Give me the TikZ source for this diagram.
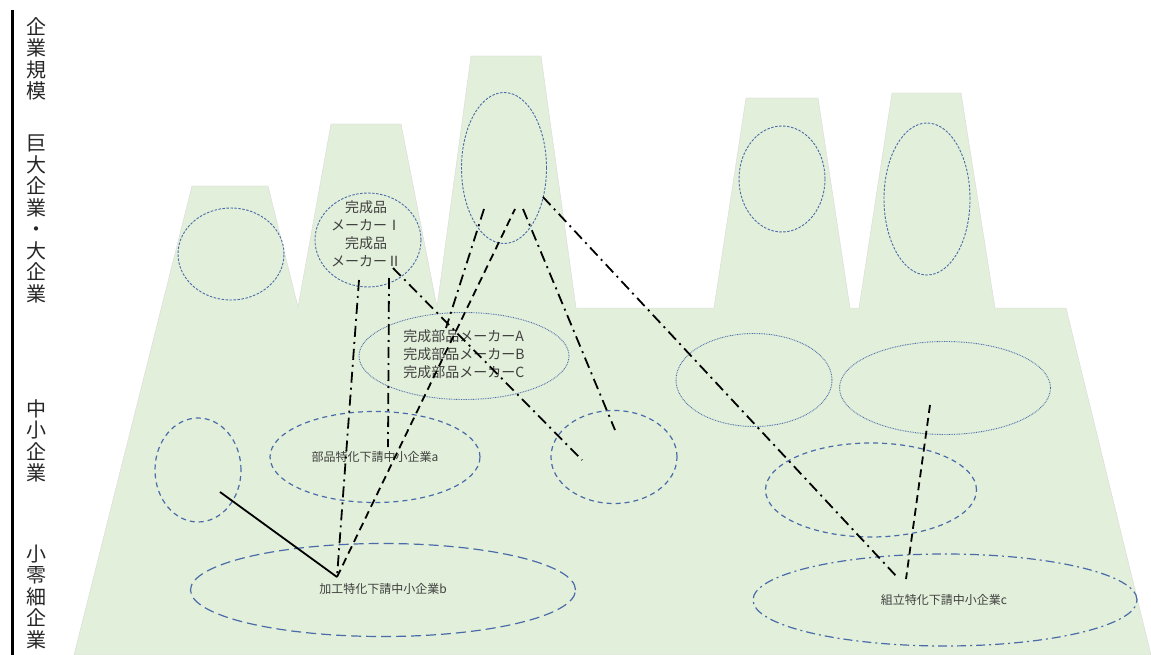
\documentclass[tikz,border=0pt]{standalone}
\usepackage{fontspec}
\setmainfont{Noto Sans CJK JP}
\usepackage{tikz}
\usetikzlibrary{shapes.geometric, calc, arrows.meta}
\definecolor{yama}{HTML}{E2EFDA}
\definecolor{waku}{HTML}{4A6BAA}
\definecolor{moji}{HTML}{404040}
\tikzset{
  kigyou/.style={ellipse, draw=waku, inner sep=0pt},
  kHoso/.style={kigyou, line width=0.9pt, dash pattern=on 2.5pt off 1.5pt},
  kTen/.style={kigyou, line width=0.9pt, dash pattern=on 0.8pt off 0.9pt},
  kHa/.style={kigyou, line width=1.2pt, dash pattern=on 5pt off 4pt},
  kNaga/.style={kigyou, line width=1.2pt, dash pattern=on 10pt off 5pt},
  kItten/.style={kigyou, line width=1.2pt, dash pattern=on 9pt off 4pt on 2pt off 4pt},
  rensen/.style={line width=1.8pt, black},
  itten/.style={rensen, dash pattern=on 11pt off 5pt on 2pt off 5pt},
  hasen/.style={rensen, dash pattern=on 8pt off 5pt},
  hidari/.style={align=center, inner sep=0pt, text=black!85, font=\fontsize{20pt}{21.5pt}\selectfont},
  mojiL/.style={align=center, inner sep=0pt, text=moji, font=\fontsize{14pt}{18pt}\selectfont},
  mojiS/.style={inner sep=0pt, text=moji, font=\fontsize{12pt}{14pt}\selectfont},
}
\begin{document}
\begin{tikzpicture}[x=1pt, y=-1pt]
  \useasboundingbox (0,0) rectangle (1151,655);
  \fill[yama, draw=black!15, line width=0.4pt] (74,655) --(192,186) --(268,186) --(298,307) --(331,124) --(401,124)
    --(437,307) --(471,56) --(541,56) --(576,308) --(714,308) --(746,98) --(818,98) --(850,308) --(859,308)
    --(892,93) --(961,93) --(995,308) --(1066,308) --(1151,655) --cycle; %山の外形
  \draw[line width=3pt] (12,10) --(12,655); %縦軸
  \node[hidari] (kibo) at (37,59) {企\\業\\規\\模};
  \node[hidari] (dai) at (37,219) {巨\\大\\企\\業\\・\\大\\企\\業};
  \node[hidari] (chu) at (37,441) {中\\小\\企\\業};
  \node[hidari] (sho) at (37,597) {小\\零\\細\\企\\業};
  % 巨大企業
  \node[kHoso, minimum width=106pt, minimum height=92pt] (y1) at (231,254) {};
  \node[kHoso, minimum width=106pt, minimum height=94pt] (y2) at (368,240) {};
  \node[kHoso, minimum width=85pt, minimum height=151pt] (y3) at (504,168) {};
  \node[kHoso, minimum width=86pt, minimum height=106pt] (y4) at (782,179) {};
  \node[kHoso, minimum width=86pt, minimum height=152pt] (y5) at (927,199) {};
  % 中小企業
  \node[kTen, minimum width=210pt, minimum height=87pt] (buhin) at (464,356) {};
  \node[kTen, minimum width=156pt, minimum height=93pt] (m2) at (754,380) {};
  \node[kTen, minimum width=211pt, minimum height=93pt] (m3) at (945,388) {};
  \node[kHa, minimum width=211pt, minimum height=94pt] (m4) at (871,490) {};
  \node[kHa, minimum width=210pt, minimum height=91pt] (sa) at (375,457) {};
  \node[kHa, minimum width=86pt, minimum height=104pt] (m5) at (198,470) {};
  \node[kHa, minimum width=126pt, minimum height=93pt] (m6) at (614,457) {};
  % 小零細企業
  \node[kNaga, minimum width=385pt, minimum height=93pt] (sb) at (383,590) {};
  \node[kItten, minimum width=384pt, minimum height=92pt] (sc) at (945,600) {};
  % 文字
  \node[mojiL] (t2) at (366,234) {完成品\\メーカーⅠ\\完成品\\メーカーⅡ};
  \node[mojiL, align=left] (tb) at (464,354) {完成部品メーカーA\\完成部品メーカーB\\完成部品メーカーC};
  \node[mojiS] (ta) at (375,457) {部品特化下請中小企業a};
  \node[mojiS] (tbb) at (383,589) {加工特化下請中小企業b};
  \node[mojiS] (tc) at (944,600) {組立特化下請中小企業c};
  % 取引の線
  \coordinate (m5in) at (220,492);
  \coordinate (sbtop) at (337,577);
  \coordinate (y2a) at (359,280);
  \coordinate (y2b) at (389,278);
  \coordinate (y2c) at (393,268);
  \coordinate (sain) at (388,447);
  \coordinate (y3a) at (484,209);
  \coordinate (y3b) at (515,209);
  \coordinate (y3c) at (523,209);
  \coordinate (y3d) at (543,197);
  \coordinate (buhinin) at (446,328);
  \coordinate (m6a) at (582,460);
  \coordinate (m6b) at (615,430);
  \coordinate (sctop) at (898,578);
  \coordinate (sctop2) at (906,579);
  \coordinate (m3in) at (930,405);
  \draw[rensen] (m5in) --(sbtop);
  \draw[itten] (y2a) --(sbtop);
  \draw[itten] (y2b) --(sain);
  \draw[hasen] (sbtop) --(y3b);
  \draw[itten] (y3a) --(buhinin);
  \draw[itten] (y2c) --(m6a);
  \draw[itten] (y3c) --(m6b);
  \draw[itten] (y3d) --(sctop);
  \draw[hasen] (m3in) --(sctop2);
\end{tikzpicture}
\end{document}
